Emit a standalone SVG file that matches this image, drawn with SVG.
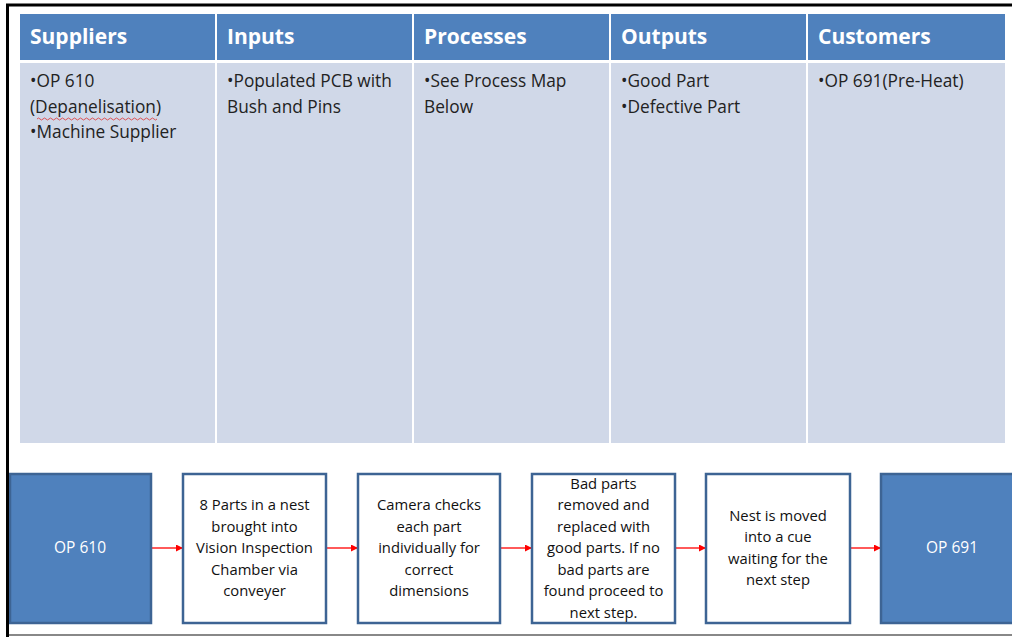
<svg xmlns="http://www.w3.org/2000/svg" width="1012" height="637" viewBox="0 0 1012 637">
<style>
.hd{fill:#4F81BD}
.bd{fill:#D0D8E8}
.ht{font-family:"Open Sans","Liberation Sans",sans-serif;font-weight:bold;font-size:21px;fill:#fff}
.bt{font-family:"Open Sans","Liberation Sans",sans-serif;font-size:17.3px;fill:#222}
.box{fill:#fff;stroke:#3D6494;stroke-width:2.5}
.op{fill:#4F81BD;stroke:#3D6494;stroke-width:2.5}
.st{font-family:"Open Sans","Liberation Sans",sans-serif;font-size:14.8px;fill:#111;text-anchor:middle}
.ot{font-family:"Open Sans","Liberation Sans",sans-serif;font-size:15.5px;fill:#fff;text-anchor:middle}
.cn{stroke:#FF0000;stroke-width:1.3;fill:none;marker-end:url(#ah)}
</style>
<defs>
<marker id="ah" viewBox="0 0 10 10" refX="10" refY="5" markerWidth="7" markerHeight="7" markerUnits="userSpaceOnUse" orient="auto">
<path d="M0,0 L10,5 L0,10 z" fill="#FF0000"/>
</marker>
</defs>
<rect width="1012" height="637" fill="#fff"/>
<g id="table">
<rect class="hd" x="20" y="14" width="195" height="46"/>
<rect class="hd" x="217" y="14" width="195" height="46"/>
<rect class="hd" x="414" y="14" width="195" height="46"/>
<rect class="hd" x="611" y="14" width="195" height="46"/>
<rect class="hd" x="808" y="14" width="197" height="46"/>
<rect class="bd" x="20" y="63" width="195" height="380"/>
<rect class="bd" x="217" y="63" width="195" height="380"/>
<rect class="bd" x="414" y="63" width="195" height="380"/>
<rect class="bd" x="611" y="63" width="195" height="380"/>
<rect class="bd" x="808" y="63" width="197" height="380"/>
<text class="ht" x="30" y="44">Suppliers</text>
<text class="ht" x="227" y="44">Inputs</text>
<text class="ht" x="424" y="44">Processes</text>
<text class="ht" x="621" y="44">Outputs</text>
<text class="ht" x="818" y="44">Customers</text>
<text class="bt" x="30" y="87">•OP 610</text>
<text class="bt" x="30" y="113">(Depanelisation)</text>
<path d="M37,119 q1.5,-2 3,0 t3,0 t3,0 t3,0 t3,0 t3,0 t3,0 t3,0 t3,0 t3,0 t3,0 t3,0 t3,0 t3,0 t3,0 t3,0 t3,0 t3,0 t3,0 t3,0 t3,0 t3,0 t3,0 t3,0 t3,0 t3,0 t3,0 t3,0 t3,0 t3,0 t3,0 t3,0 t3,0 t3,0 t3,0 t3,0 t3,0 t3,0 t3,0 t3,0" fill="none" stroke="#E03030" stroke-width="0.8"/>
<text class="bt" x="30" y="138">•Machine Supplier</text>
<text class="bt" x="227" y="87">•Populated PCB with</text>
<text class="bt" x="227" y="113">Bush and Pins</text>
<text class="bt" x="424" y="87">•See Process Map</text>
<text class="bt" x="424" y="113">Below</text>
<text class="bt" x="621" y="87">•Good Part</text>
<text class="bt" x="621" y="113">•Defective Part</text>
<text class="bt" x="818" y="87">•OP 691(Pre-Heat)</text>
</g>
<g id="connectors">
<line class="cn" x1="151" y1="548" x2="183" y2="548"/>
<line class="cn" x1="326" y1="548" x2="358" y2="548"/>
<line class="cn" x1="500" y1="548" x2="532" y2="548"/>
<line class="cn" x1="675" y1="548" x2="706" y2="548"/>
<line class="cn" x1="850" y1="548" x2="881" y2="548"/>
</g>
<g id="op610">
<rect class="op" x="10" y="474" width="141" height="149"/>
<text class="ot" x="80" y="553">OP 610</text>
</g>
<g id="step1">
<rect class="box" x="183" y="474" width="143" height="149"/>
<text class="st" x="254.5" y="510">8 Parts in a nest</text>
<text class="st" x="254.5" y="532">brought into</text>
<text class="st" x="254.5" y="553">Vision Inspection</text>
<text class="st" x="254.5" y="575">Chamber via</text>
<text class="st" x="254.5" y="596">conveyer</text>
</g>
<g id="step2">
<rect class="box" x="358" y="474" width="142" height="149"/>
<text class="st" x="429" y="510">Camera checks</text>
<text class="st" x="429" y="532">each part</text>
<text class="st" x="429" y="553">individually for</text>
<text class="st" x="429" y="575">correct</text>
<text class="st" x="429" y="596">dimensions</text>
</g>
<g id="step3">
<rect class="box" x="532" y="474" width="143" height="149"/>
<text class="st" x="603.5" y="489">Bad parts</text>
<text class="st" x="603.5" y="510">removed and</text>
<text class="st" x="603.5" y="532">replaced with</text>
<text class="st" x="603.5" y="553">good parts. If no</text>
<text class="st" x="603.5" y="575">bad parts are</text>
<text class="st" x="603.5" y="596">found proceed to</text>
<text class="st" x="603.5" y="618">next step.</text>
</g>
<g id="step4">
<rect class="box" x="706" y="474" width="144" height="149"/>
<text class="st" x="778" y="521">Nest is moved</text>
<text class="st" x="778" y="542">into a cue</text>
<text class="st" x="778" y="564">waiting for the</text>
<text class="st" x="778" y="585">next step</text>
</g>
<g id="op691">
<rect class="op" x="881" y="474" width="140" height="149"/>
<text class="ot" x="952" y="553">OP 691</text>
</g>
<g id="frame">
<line x1="7.5" y1="4" x2="7.5" y2="637" stroke="#000" stroke-width="3"/>
<line x1="6" y1="5" x2="1012" y2="5" stroke="#000" stroke-width="3"/>
<line x1="9" y1="635" x2="1012" y2="635" stroke="#888" stroke-width="2"/>
</g>
</svg>
